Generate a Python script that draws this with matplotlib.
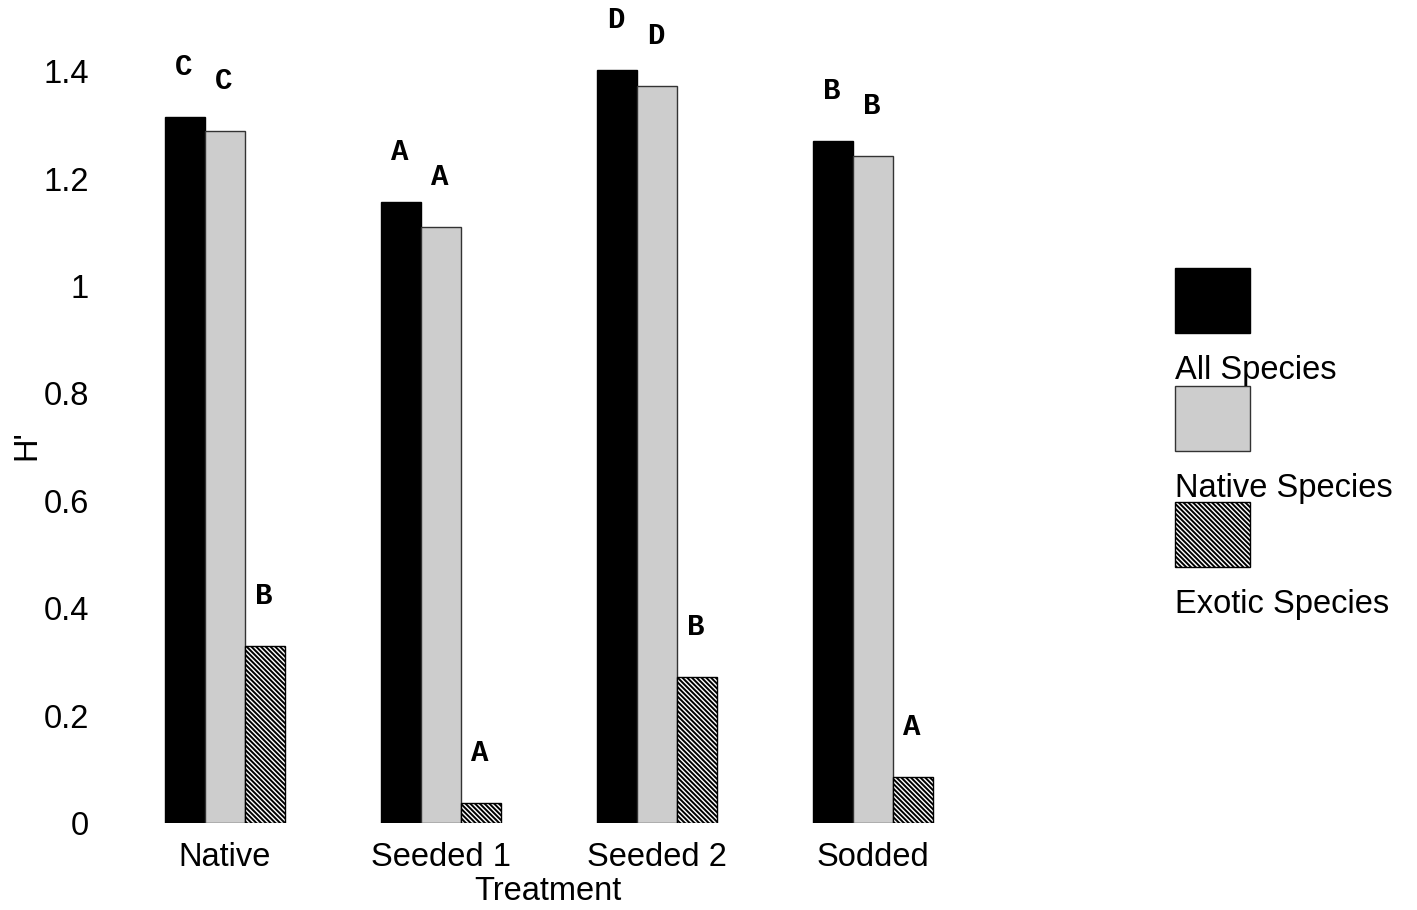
import numpy as np
import matplotlib
matplotlib.use("Agg")
import matplotlib.pyplot as plt
from matplotlib.patches import Rectangle

plt.rcParams['font.family'] = ['Liberation Sans', 'DejaVu Sans']
plt.rcParams['hatch.linewidth'] = 1.4

treatments = ['Native', 'Seeded 1', 'Seeded 2', 'Sodded']
series = ['All Species', 'Native Species', 'Exotic Species']
all_species = [1.315, 1.156, 1.402, 1.270]
native_species = [1.289, 1.110, 1.372, 1.242]
exotic_species = [0.330, 0.037, 0.272, 0.086]
all_letters = ['C', 'A', 'D', 'B']
native_letters = ['C', 'A', 'D', 'B']
exotic_letters = ['B', 'A', 'B', 'A']
yticks = [0, 0.2, 0.4, 0.6, 0.8, 1.0, 1.2, 1.4]
ytick_labels = ['0', '0.2', '0.4', '0.6', '0.8', '1', '1.2', '1.4']

FS = 23.5
W, H = 1417, 910
fig = plt.figure(figsize=(W / 100, H / 100), dpi=100)
# axes spans pixels x 100..960, y 17.5..823 (from top)
ax = fig.add_axes([100 / W, (H - 823) / H, 860 / W, (823 - 17.5) / H])

x = np.arange(len(treatments))
w = 0.185
styles = [
    dict(color='black', edgecolor='black'),
    dict(color='#cdcdcd', edgecolor='#333333', linewidth=1.0),
    dict(facecolor='white', edgecolor='black', hatch='\\' * 7, linewidth=1.0),
]
data = [all_species, native_species, exotic_species]
letters = [all_letters, native_letters, exotic_letters]
for i, (vals, st, labs) in enumerate(zip(data, styles, letters)):
    xs = x + (i - 1) * w
    ax.bar(xs, vals, width=w, **st)
    for xi, v, lab in zip(xs, vals, labs):
        ax.annotate(lab, (xi, v), xytext=(-1, 36), textcoords='offset points',
                    ha='center', va='center', fontsize=21, fontweight='bold',
                    family='Liberation Mono')

ax.set_xlim((100 - 225) / 216, (960 - 225) / 216)
ax.set_ylim(0, 1.5)
ax.set_yticks(yticks)
ax.set_yticklabels(ytick_labels)
ax.set_xticks(x)
ax.set_xticklabels(treatments)
ax.tick_params(length=0, labelsize=FS)
ax.tick_params(axis='x', pad=14)
ax.tick_params(axis='y', pad=8)
for s in ax.spines.values():
    s.set_visible(False)

ax.set_xlabel('Treatment', fontsize=FS)
ax.xaxis.set_label_coords((548 - 100) / 860, -(891 - 823) / (823 - 17.5))
ax.xaxis.label.set_va('center')
ax.set_ylabel("H'", fontsize=FS)
ax.yaxis.set_label_coords(-(100 - 27) / 860, (823 - 445) / (823 - 17.5))
ax.yaxis.label.set_va('center')

# legend: swatch above each label
tops = [268, 386, 502]
for top, name, st in zip(tops, series, styles):
    st2 = dict(st)
    st2.pop('color', None)
    if 'color' in st:
        st2['facecolor'] = st['color']
    fig.add_artist(Rectangle((1175 / W, (H - top - 65) / H), 75 / W, 65 / H,
                             transform=fig.transFigure, **st2))
    fig.text(1175 / W, (H - (top + 102)) / H, name, fontsize=FS,
             ha='left', va='center')

fig.savefig('out.png', dpi=100)
